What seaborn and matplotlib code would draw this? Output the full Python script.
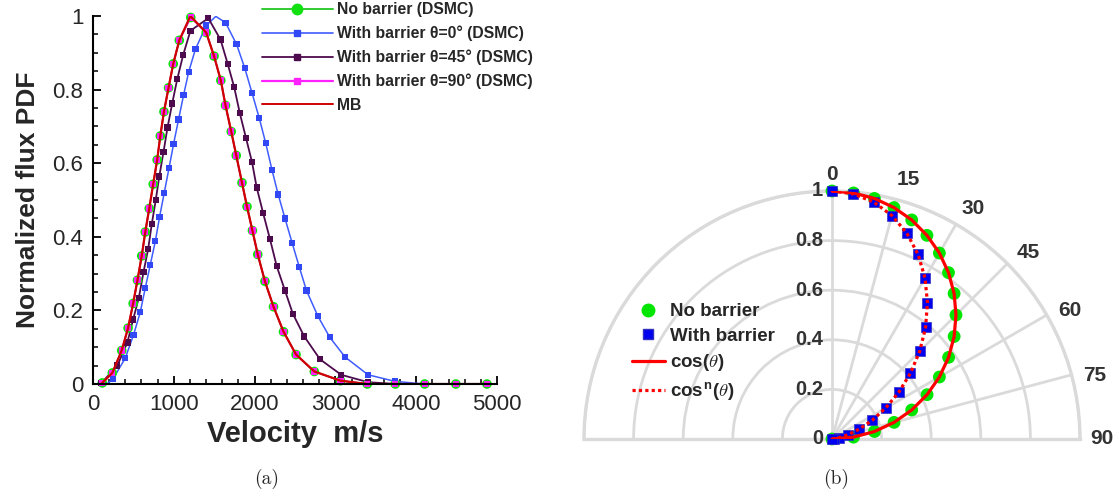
import numpy as np
import pandas as pd
import seaborn as sns
import matplotlib
matplotlib.use("Agg")
import matplotlib.pyplot as plt
from matplotlib.lines import Line2D
from matplotlib.ticker import MultipleLocator
from matplotlib.transforms import Bbox
from matplotlib.font_manager import FontProperties

# ---------------- data: panel (a) ----------------
v_nb = [115, 239, 355, 434, 497, 550, 603, 647, 696, 745, 794, 833, 878, 935, 993, 1068, 1210, 1401, 1498, 1582,
        1640, 1711, 1773, 1844, 1906, 1973, 2039, 2128, 2234, 2358, 2513, 2739, 3063, 3395, 3741, 4105, 4491, 4876]
f_nb = [0.003, 0.030, 0.091, 0.152, 0.219, 0.282, 0.348, 0.413, 0.477, 0.543, 0.609, 0.674, 0.740, 0.805, 0.870,
        0.934, 0.996, 0.955, 0.891, 0.825, 0.757, 0.686, 0.621, 0.547, 0.482, 0.417, 0.352, 0.279, 0.210, 0.142,
        0.080, 0.034, 0.009, 0.0, 0.0, 0.0, 0.0, 0.0]

v_0 = [248, 399, 501, 585, 647, 709, 771, 824, 882, 940, 997, 1059, 1121, 1184, 1268, 1401, 1640, 1777, 1879, 1968,
       2057, 2137, 2216, 2292, 2376, 2465, 2553, 2642, 2784, 2930, 3121, 3404, 3741, 4105, 4491, 4876]
f_0 = [0.014, 0.070, 0.133, 0.195, 0.261, 0.324, 0.388, 0.454, 0.520, 0.586, 0.652, 0.719, 0.785, 0.848, 0.910,
       0.974, 0.982, 0.923, 0.858, 0.791, 0.723, 0.655, 0.581, 0.515, 0.450, 0.383, 0.318, 0.254, 0.184, 0.127,
       0.073, 0.025, 0.007, 0.0, 0.0, 0.0]
# extra line-only points (curve start and peak) for the 0 deg series
v_0_line = [170, 248, 399, 501, 585, 647, 709, 771, 824, 882, 940, 997, 1059, 1121, 1184, 1268, 1401, 1520, 1640,
            1777, 1879, 1968, 2057, 2137, 2216, 2292, 2376, 2465, 2553, 2642, 2784, 2930, 3121, 3404, 3741, 4105,
            4491, 4876]
f_0_line = [0.0, 0.014, 0.070, 0.133, 0.195, 0.261, 0.324, 0.388, 0.454, 0.520, 0.586, 0.652, 0.719, 0.785, 0.848,
            0.910, 0.974, 0.999, 0.982, 0.923, 0.858, 0.791, 0.723, 0.655, 0.581, 0.515, 0.450, 0.383, 0.318, 0.254,
            0.184, 0.127, 0.073, 0.025, 0.007, 0.0, 0.0, 0.0]

v_45 = [102, 301, 426, 496, 567, 625, 683, 727, 776, 820, 873, 922, 980, 1042, 1117, 1206, 1427, 1578, 1667, 1747,
        1817, 1893, 1968, 2026, 2105, 2190, 2274, 2376, 2473, 2615, 2810, 3072, 3404, 3741, 4105, 4491, 4876]
f_45 = [0.002, 0.050, 0.113, 0.175, 0.234, 0.304, 0.367, 0.434, 0.499, 0.564, 0.631, 0.697, 0.762, 0.828, 0.895,
        0.960, 0.994, 0.936, 0.870, 0.807, 0.736, 0.669, 0.603, 0.534, 0.465, 0.394, 0.320, 0.254, 0.191, 0.129,
        0.067, 0.025, 0.005, 0.0, 0.0, 0.0, 0.0]

v_90 = [115, 239, 355, 434, 497, 550, 603, 647, 696, 745, 794, 833, 878, 935, 993, 1068, 1210, 1401, 1498, 1582,
        1640, 1711, 1773, 1844, 1906, 1973, 2039, 2128, 2234, 2358, 2513, 2739, 3063, 3395, 3741, 4105, 4491, 4876]
f_90 = [0.003, 0.030, 0.091, 0.152, 0.219, 0.282, 0.348, 0.413, 0.477, 0.543, 0.609, 0.674, 0.740, 0.805, 0.870,
        0.934, 0.996, 0.955, 0.891, 0.825, 0.757, 0.686, 0.621, 0.547, 0.482, 0.417, 0.352, 0.279, 0.210, 0.142,
        0.080, 0.034, 0.009, 0.0, 0.0, 0.0, 0.0, 0.0]

v_mb = [100, 239, 355, 434, 497, 550, 603, 647, 696, 745, 794, 833, 878, 935, 993, 1068, 1205, 1401, 1498, 1582,
        1640, 1711, 1773, 1844, 1906, 1973, 2039, 2128, 2234, 2358, 2513, 2739, 3063, 3395, 3741, 4105, 4491, 4876]
f_mb = [0.0, 0.030, 0.091, 0.152, 0.219, 0.282, 0.348, 0.413, 0.477, 0.543, 0.609, 0.674, 0.740, 0.805, 0.870,
        0.934, 1.0, 0.955, 0.891, 0.825, 0.757, 0.686, 0.621, 0.547, 0.482, 0.417, 0.352, 0.279, 0.210, 0.142,
        0.080, 0.034, 0.009, 0.0, 0.0, 0.0, 0.0, 0.0]

labels_a = ["No barrier (DSMC)", "With barrier θ=0° (DSMC)", "With barrier θ=45° (DSMC)",
            "With barrier θ=90° (DSMC)", "MB"]
xticks_a = [0, 1000, 2000, 3000, 4000, 5000]
yticks_a = [0, 0.2, 0.4, 0.6, 0.8, 1.0]
yticklabels_a = ["0", "0.2", "0.4", "0.6", "0.8", "1"]

# ---------------- data: panel (b) ----------------
theta_deg = [0, 5, 10, 15, 20, 25, 30, 35, 40, 45, 50, 55, 60, 65, 70, 75, 80, 85, 90]
r_nobarrier = [1.0, 0.996, 0.985, 0.966, 0.940, 0.906, 0.866, 0.819, 0.766, 0.707, 0.643, 0.574, 0.500, 0.423,
               0.342, 0.259, 0.174, 0.087, 0.0]
r_barrier = [1.0, 0.992, 0.970, 0.933, 0.883, 0.821, 0.750, 0.671, 0.587, 0.500, 0.413, 0.329, 0.250, 0.179,
             0.117, 0.067, 0.030, 0.008, 0.0]
r_cos = [1.0, 0.996, 0.985, 0.966, 0.940, 0.906, 0.866, 0.819, 0.766, 0.707, 0.643, 0.574, 0.500, 0.423,
         0.342, 0.259, 0.174, 0.087, 0.0]
r_cosn = [1.0, 0.992, 0.970, 0.933, 0.883, 0.821, 0.750, 0.671, 0.587, 0.500, 0.413, 0.329, 0.250, 0.179,
          0.117, 0.067, 0.030, 0.008, 0.0]
labels_b = ["No barrier", "With barrier", r"cos($\theta$)", r"cos$^{\mathdefault{n}}$($\theta$)"]
theta_ticks = [0, 15, 30, 45, 60, 75, 90]
r_ticks = [0.0, 0.2, 0.4, 0.6, 0.8, 1.0]
r_ticklabels = ["0", "0.2", "0.4", "0.6", "0.8", "1"]

# ---------------- style ----------------
sns.set_style("ticks")
plt.rcParams["font.family"] = ["Liberation Sans", "DejaVu Sans"]
plt.rcParams["mathtext.fontset"] = "cm"

GREEN = "#11e011"
GREEN_L = "#33cc33"
BLUE = "#3348f5"
BLUE_L = "#3f5cff"
PURPLE = "#4d0b4d"
MAGENTA = "#ff22ff"
MBRED = "#d00000"
GRID = "#dadada"
TXT = "#333333"

W, H = 1119, 501
fig = plt.figure(figsize=(W / 100, H / 100), dpi=100)

# ---------------- panel (a) ----------------
ax = fig.add_axes([93 / W, (H - 384) / H, 404 / W, 368 / H])

sns.lineplot(x=v_nb, y=f_nb, ax=ax, color=GREEN_L, lw=1.2, sort=False, estimator=None, zorder=2)
sns.lineplot(x=v_0_line, y=f_0_line, ax=ax, color=BLUE_L, lw=1.1, sort=False, estimator=None, zorder=2)
sns.lineplot(x=v_45, y=f_45, ax=ax, color=PURPLE, lw=1.3, sort=False, estimator=None, zorder=2)
sns.lineplot(x=v_90, y=f_90, ax=ax, color=MAGENTA, lw=1.2, sort=False, estimator=None, zorder=2)

sns.scatterplot(x=v_nb, y=f_nb, ax=ax, color=GREEN, s=48, marker="o", edgecolor="none", zorder=3, clip_on=False)
sns.scatterplot(x=v_0, y=f_0, ax=ax, color=BLUE, s=20, marker="s", edgecolor="none", zorder=3, clip_on=False)
sns.scatterplot(x=v_45, y=f_45, ax=ax, color=PURPLE, s=20, marker="s", edgecolor="none", zorder=3, clip_on=False)
sns.scatterplot(x=v_90, y=f_90, ax=ax, color=MAGENTA, s=20, marker="s", edgecolor="none", zorder=3, clip_on=False)
sns.lineplot(x=v_mb, y=f_mb, ax=ax, color=MBRED, lw=1.6, sort=False, estimator=None, zorder=4)

ax.set_xlim(0, 5000)
ax.set_ylim(0, 1)
ax.set_xticks(xticks_a)
ax.set_xticklabels([str(t) for t in xticks_a])
ax.set_yticks(yticks_a)
ax.set_yticklabels(yticklabels_a)
ax.xaxis.set_minor_locator(MultipleLocator(200))
ax.yaxis.set_minor_locator(MultipleLocator(0.05))
ax.tick_params(which="major", direction="in", length=6, width=1.3, labelsize=16, pad=7, color="black")
ax.tick_params(which="minor", direction="in", length=3.5, width=1.1, color="black")
for s in ["top", "right"]:
    ax.spines[s].set_visible(False)
for s in ["left", "bottom"]:
    ax.spines[s].set_linewidth(1.5)
    ax.spines[s].set_color("black")
    ax.spines[s].set_zorder(5)
ax.set_xlabel("Velocity  m/s", fontsize=21, fontweight="bold", labelpad=4)
ax.set_ylabel("Normalized flux PDF", fontsize=19, fontweight="bold", labelpad=9)
if ax.get_legend() is not None:
    ax.get_legend().remove()

handles_a = [
    Line2D([0], [0], color=GREEN_L, lw=1.4, marker="o", ms=7.5, mfc=GREEN, mec=GREEN),
    Line2D([0], [0], color=BLUE_L, lw=1.2, marker="s", ms=4.8, mfc=BLUE, mec=BLUE),
    Line2D([0], [0], color=PURPLE, lw=1.3, marker="s", ms=4.8, mfc=PURPLE, mec=PURPLE),
    Line2D([0], [0], color=MAGENTA, lw=1.6, marker="s", ms=4.8, mfc=MAGENTA, mec=MAGENTA),
    Line2D([0], [0], color=MBRED, lw=1.4),
]
leg_a = fig.legend(handles_a, labels_a, loc="upper left", bbox_to_anchor=(262 / W, 1.0 - 2 / H),
                   frameon=False, prop=FontProperties(family="Liberation Sans", weight="bold", size=11.3),
                   handlelength=4.5, handletextpad=0.3, labelspacing=0.54, borderpad=0, borderaxespad=0)
clipbox = Bbox([[0, 0], [538, H]])
for t in leg_a.get_texts():
    t.set_clip_box(clipbox)
    t.set_clip_on(True)

# ---------------- panel (b) ----------------
R = 248
cx, cy = 832, 439
# polar axes keep a square box; the half disc sits in its vertical middle
ax2 = fig.add_axes([(cx - R) / W, (H - (cy + R / 2)) / H, 2 * R / W, 2 * R / H], projection="polar")
ax2.set_theta_zero_location("N")
ax2.set_theta_direction(-1)
ax2.set_thetamin(-90)
ax2.set_thetamax(90)
ax2.set_facecolor("white")

th = np.deg2rad(theta_deg)
sns.scatterplot(x=th, y=r_nobarrier, ax=ax2, color="#00e600", s=85, marker="o", edgecolor="none",
                zorder=3, clip_on=False)
sns.scatterplot(x=th, y=r_barrier, ax=ax2, color="#0000f0", s=60, marker="s", edgecolor="#3030c0",
                linewidth=0.5, zorder=4, clip_on=False)
sns.lineplot(x=th, y=r_cos, ax=ax2, color="#ff0000", lw=2.3, sort=False, estimator=None, zorder=5)
sns.lineplot(x=th, y=r_cosn, ax=ax2, color="#ff0000", lw=2.3, ls=(0, (1, 1)), sort=False, estimator=None,
             zorder=5)

ax2.set_rlim(0, 1)
ax2.set_rticks(r_ticks[1:])
ax2.set_yticklabels([])
ax2.set_thetagrids(theta_ticks, ["" for t in theta_ticks])
ax2.grid(True, color=GRID, lw=2.0)
for s in ax2.spines.values():
    s.set_color(GRID)
    s.set_linewidth(2.4)
ax2.set_xlabel("")
ax2.set_ylabel("")
if ax2.get_legend() is not None:
    ax2.get_legend().remove()

# angle labels just outside the outer arc
for t in theta_ticks:
    ang = np.deg2rad(t + (1.5 if 0 < t < 90 else 0))
    rad = 1.065 if t == 0 else 1.09
    ax2.text(ang, rad, str(t), ha="center", va="center", fontsize=15, fontweight="bold", color=TXT,
             clip_on=False)

# radial labels along the 0 deg line
for r, lab in zip(r_ticks, r_ticklabels):
    ax2.annotate(lab, xy=(0, r), xytext=(-9, 0), textcoords="offset pixels", ha="right", va="center",
                 fontsize=14.5, fontweight="bold", color=TXT, annotation_clip=False)

handles_b = [
    Line2D([], [], ls="none", marker="o", ms=9, mfc="#00e600", mec="#00e600"),
    Line2D([], [], ls="none", marker="s", ms=7.5, mfc="#0000f0", mec="#3030c0"),
    Line2D([], [], color="#ff0000", lw=2.3),
    Line2D([], [], color="#ff0000", lw=2.3, ls=(0, (1, 1))),
]
fig.legend(handles_b, labels_b, loc="upper left", bbox_to_anchor=(632 / W, 1 - 303 / H),
           frameon=False, prop=FontProperties(family="Liberation Sans", weight="bold", size=13.5),
           handlelength=1.75, handletextpad=0.25, labelspacing=0.4, borderpad=0, borderaxespad=0)

# ---------------- panel captions ----------------
fig.text(267 / W, 1 - 479 / H, "(a)", family="cmr10", fontsize=14, ha="center", va="center")
fig.text(836 / W, 1 - 479 / H, "(b)", family="cmr10", fontsize=14, ha="center", va="center")

fig.savefig("out.png", dpi=100)
